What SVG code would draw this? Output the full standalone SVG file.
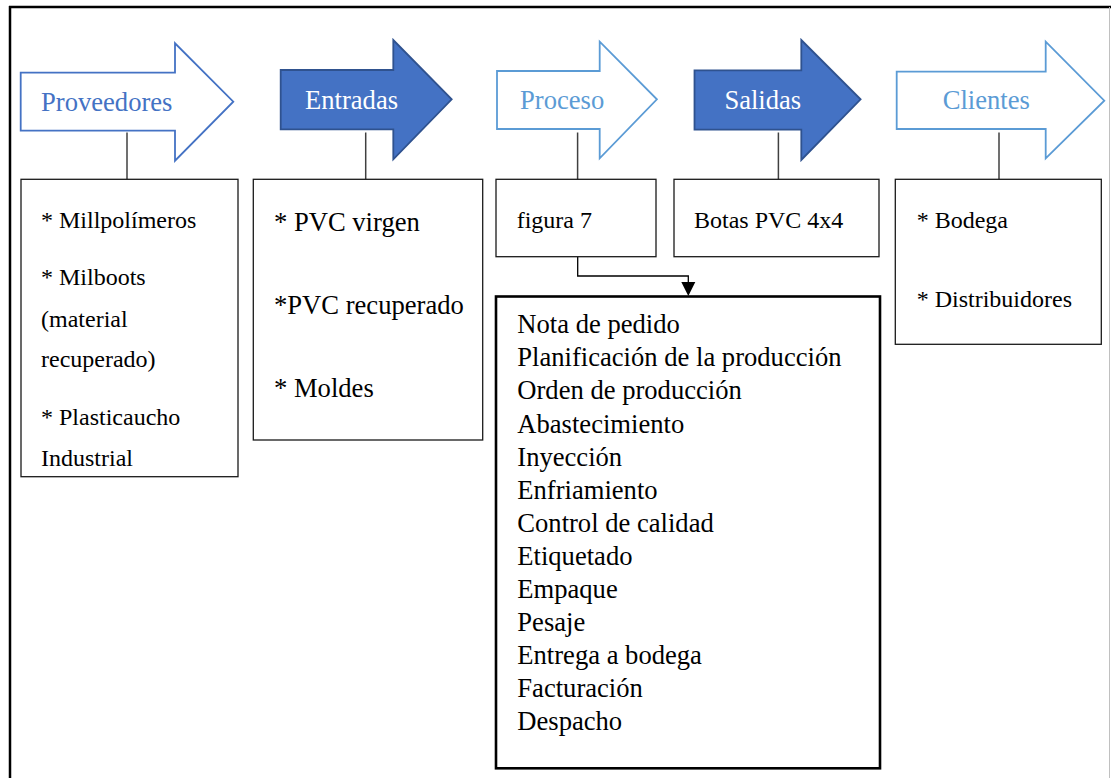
<svg xmlns="http://www.w3.org/2000/svg" width="1111" height="778" viewBox="0 0 1111 778" font-family="'Liberation Serif', 'Times New Roman', serif">
<style>
.ah{font-family:"Liberation Serif","Times New Roman",serif;font-size:26.6px;}
.outline{fill:#ffffff;stroke-width:1.8;stroke-linejoin:miter;}
.dark{fill:#4472C4;stroke:#2F528F;stroke-width:1.8;}
.box{fill:#ffffff;stroke:#1a1a1a;stroke-width:1.3;}
.bigbox{fill:#ffffff;stroke:#000000;stroke-width:2.6;}
.t24{font-family:"Liberation Serif","Times New Roman",serif;font-size:24px;fill:#000;}
.t26{font-family:"Liberation Serif","Times New Roman",serif;font-size:26.6px;fill:#000;}
.link{stroke:#404040;stroke-width:1.5;fill:none;}
</style>
<rect x="0" y="0" width="1111" height="778" fill="#ffffff"/>
<g id="frame">
<line x1="9" y1="7" x2="1111" y2="7" stroke="#000" stroke-width="2.5"/>
<line x1="10" y1="6" x2="10" y2="778" stroke="#000" stroke-width="2.5"/>
<line x1="1109.5" y1="7" x2="1109.5" y2="778" stroke="#c0c0c0" stroke-width="1"/>
</g>
<g id="connectors">
<line class="link" x1="127" y1="132.5" x2="127" y2="179"/>
<line class="link" x1="365.7" y1="132.5" x2="365.7" y2="179"/>
<line class="link" x1="577.6" y1="132.5" x2="577.6" y2="179"/>
<line class="link" x1="778.4" y1="132.5" x2="778.4" y2="179"/>
<line class="link" x1="999" y1="132.5" x2="999" y2="179"/>
<polyline points="577.7,256.7 577.7,276 688.3,276 688.3,283" fill="none" stroke="#000" stroke-width="1.3"/>
<path d="M681.3,282 L695.3,282 L688.3,296 Z" fill="#000"/>
</g>
<g id="proveedores">
<path class="outline" stroke="#4472C4" d="M20.7,72.7 L175,72.7 L175,43.3 L233.3,101.7 L175,160.7 L175,130.7 L20.7,130.7 Z"/>
<text class="ah" x="41" y="110.5" fill="#4472C4">Proveedores</text>
</g>
<g id="entradas">
<path class="dark" d="M280.7,70 L393.3,70 L393.3,40 L451.7,99.3 L393.3,159.3 L393.3,129.3 L280.7,129.3 Z"/>
<text class="ah" x="305" y="109" fill="#ffffff">Entradas</text>
</g>
<g id="proceso">
<path class="outline" stroke="#5B9BD5" d="M497,71 L599.7,71 L599.7,41.7 L656.9,99.3 L599.7,158.3 L599.7,129 L497,129 Z"/>
<text class="ah" x="520" y="108.5" fill="#5B9BD5">Proceso</text>
</g>
<g id="salidas">
<path class="dark" d="M694.5,70.3 L801.3,70.3 L801.3,40 L860.6,99.3 L801.3,160 L801.3,129.7 L694.5,129.7 Z"/>
<text class="ah" x="724.4" y="109" fill="#ffffff">Salidas</text>
</g>
<g id="clientes">
<path class="outline" stroke="#5B9BD5" d="M896.7,71.7 L1045.7,71.7 L1045.7,41.7 L1104.3,100.7 L1045.7,158.3 L1045.7,129 L896.7,129 Z"/>
<text class="ah" x="942.7" y="109" fill="#5B9BD5">Clientes</text>
</g>
<g id="box-proveedores">
<rect class="box" x="21" y="179.3" width="217" height="297.4"/>
<text class="t24" x="41" y="228.3">* Millpolímeros</text>
<text class="t24" x="41" y="285">* Milboots</text>
<text class="t24" x="41" y="326.7">(material</text>
<text class="t24" x="41" y="366.7">recuperado)</text>
<text class="t24" x="41" y="425">* Plasticaucho</text>
<text class="t24" x="41" y="466">Industrial</text>
</g>
<g id="box-entradas">
<rect class="box" x="253.3" y="179.3" width="229.4" height="260.7"/>
<text class="t26" x="274" y="230.7">* PVC virgen</text>
<text class="t26" x="274" y="314">*PVC recuperado</text>
<text class="t26" x="274" y="396.7">* Moldes</text>
</g>
<g id="box-proceso">
<rect class="box" x="496" y="179.3" width="160" height="77.4"/>
<text class="t24" x="516.7" y="228.3">figura 7</text>
</g>
<g id="box-salidas">
<rect class="box" x="674" y="179.3" width="205" height="77.4"/>
<text class="t24" x="694" y="228.3">Botas PVC 4x4</text>
</g>
<g id="box-clientes">
<rect class="box" x="895.3" y="179.3" width="206" height="165"/>
<text class="t24" x="916.7" y="228.3">* Bodega</text>
<text class="t24" x="916.7" y="306.7">* Distribuidores</text>
</g>
<g id="box-etapas">
<rect class="bigbox" x="496" y="296.5" width="384" height="471.8"/>
<text class="t26" x="517.3" y="333.3">Nota de pedido</text>
<text class="t26" x="517.3" y="366.4">Planificación de la producción</text>
<text class="t26" x="517.3" y="399.4">Orden de producción</text>
<text class="t26" x="517.3" y="432.5">Abastecimiento</text>
<text class="t26" x="517.3" y="465.5">Inyección</text>
<text class="t26" x="517.3" y="498.6">Enfriamiento</text>
<text class="t26" x="517.3" y="531.7">Control de calidad</text>
<text class="t26" x="517.3" y="564.7">Etiquetado</text>
<text class="t26" x="517.3" y="597.8">Empaque</text>
<text class="t26" x="517.3" y="630.8">Pesaje</text>
<text class="t26" x="517.3" y="663.9">Entrega a bodega</text>
<text class="t26" x="517.3" y="697">Facturación</text>
<text class="t26" x="517.3" y="730">Despacho</text>
</g>
</svg>
